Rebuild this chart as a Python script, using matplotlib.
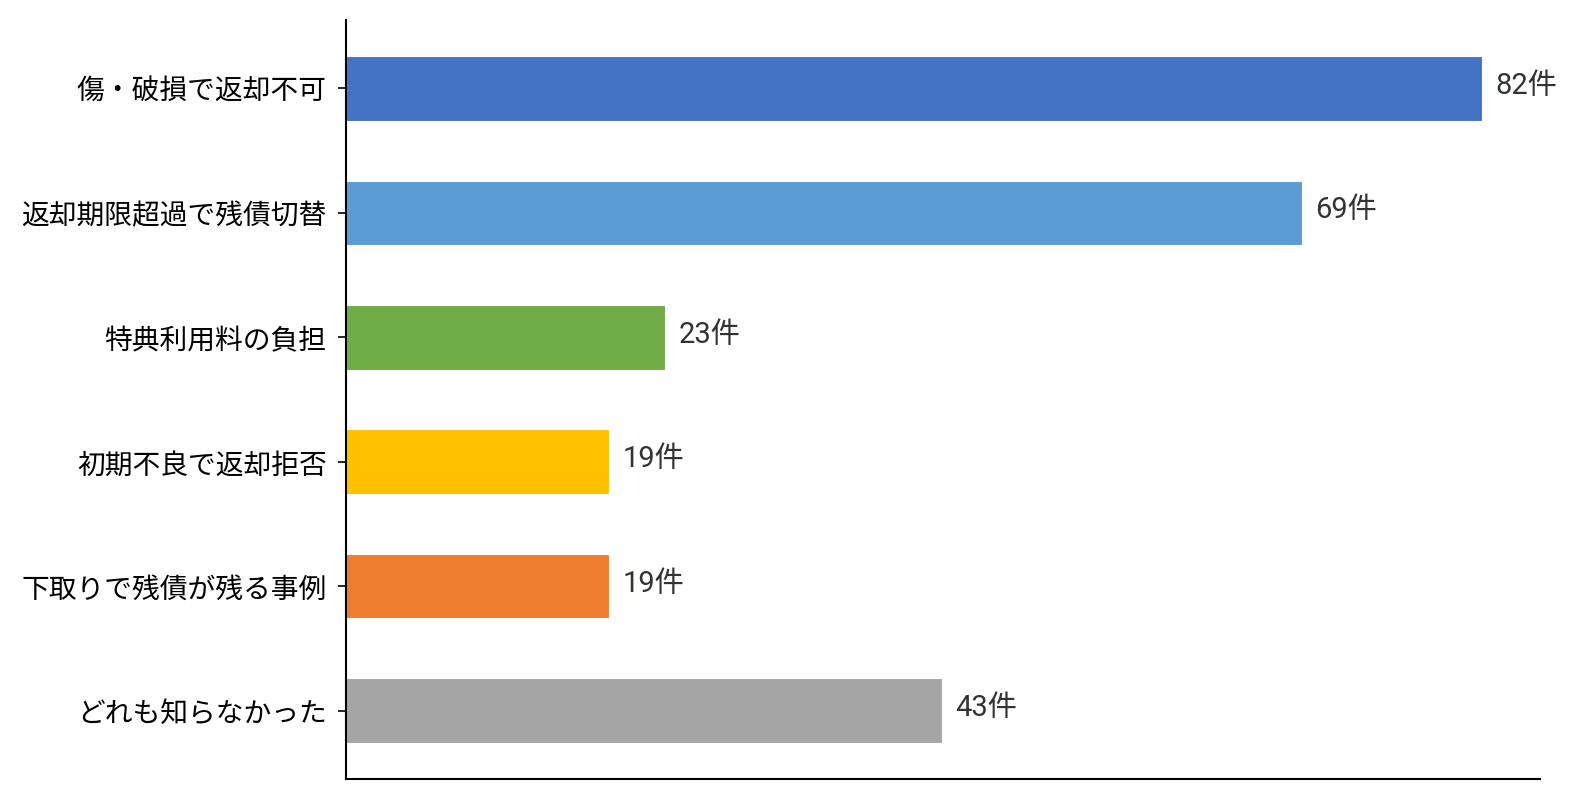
import matplotlib
matplotlib.use("Agg")
import matplotlib.pyplot as plt

plt.rcParams['font.family'] = ['Noto Sans CJK JP', 'DejaVu Sans']

categories = ["傷・破損で返却不可", "返却期限超過で残債切替", "特典利用料の負担",
              "初期不良で返却拒否", "下取りで残債が残る事例", "どれも知らなかった"]
values = [82, 69, 23, 19, 19, 43]
colors = ["#4472C4", "#5B9BD5", "#70AD47", "#FFC000", "#ED7D31", "#A5A5A5"]
unit = "件"

fig = plt.figure(figsize=(15.81, 8.0), dpi=100)
ax = fig.add_axes([346/1581, 1-779/800, (1540-346)/1581, (779-20)/800])

y = list(range(len(categories)))
ax.barh(y, values, height=0.52, color=colors, edgecolor="white", linewidth=0.8)
for yi, v in zip(y, values):
    ax.text(v + 1.0, yi - 0.02, f"{v}{unit}", va="center", ha="left",
            fontsize=21, color="#333333",
            family=['Roboto', 'Noto Sans CJK JP'])

ax.set_yticks(y)
ax.set_yticklabels(categories, fontsize=20)
ax.set_ylim(len(categories) - 0.45, -0.55)
ax.set_xlim(0, 86.2)
ax.set_xticks([])
ax.spines['top'].set_visible(False)
ax.spines['right'].set_visible(False)
ax.spines['left'].set_linewidth(1.5)
ax.spines['bottom'].set_linewidth(1.5)
ax.tick_params(axis='y', length=6, width=1.2, pad=8)

fig.savefig("out.png", dpi=100)
